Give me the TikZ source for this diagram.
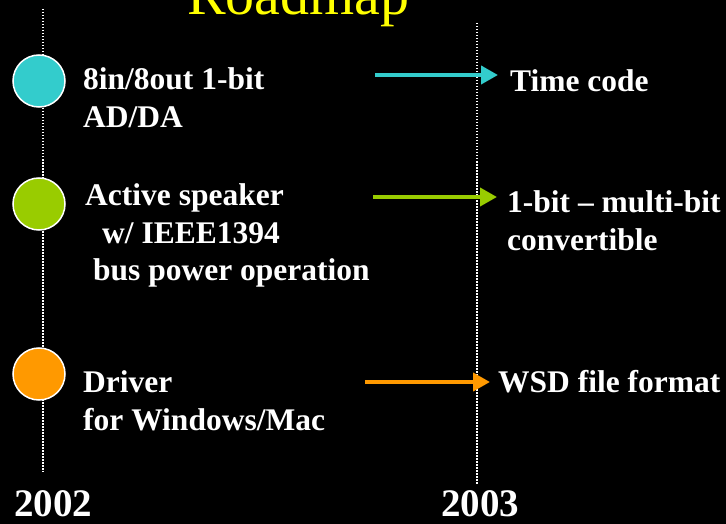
\documentclass[tikz,border=0pt]{standalone}
\usepackage{fontspec}
\setmainfont{Liberation Serif}
\usetikzlibrary{arrows.meta}

\definecolor{rmcyan}{HTML}{33CCCC}
\definecolor{rmgreen}{HTML}{99CC00}
\definecolor{rmorange}{HTML}{FF9900}
\definecolor{rmyellow}{HTML}{FFFF00}

\tikzset{
  item/.style={anchor=base west, inner sep=0pt, text=white,
               font=\fontsize{31.5}{38}\selectfont\bfseries},
  yearlabel/.style={anchor=base west, inner sep=0pt, text=white,
               font=\fontsize{39}{46}\selectfont\bfseries},
  milestone/.style={circle, draw=white, line width=1.5pt,
               minimum size=52pt, inner sep=0pt},
  timeline/.style={white, line width=1.5pt, dash pattern=on 1.5pt off 1.5pt},
  goal/.style={line width=4pt, -{Triangle[length=17pt,width=18pt]}}
}

\begin{document}
\begin{tikzpicture}[x=1pt,y=-1pt]
  \useasboundingbox (0,0) rectangle (726,524);
  \fill[black] (0,0) rectangle (726,524);

  % title
  \node[anchor=base west, inner sep=0pt, text=rmyellow,
        font=\fontsize{58}{60}\selectfont] (title) at (187,15) {Roadmap};

  % time lines
  \coordinate (y2002top) at (43,9);
  \coordinate (y2002end) at (43,472);
  \coordinate (y2003top) at (477,23);
  \coordinate (y2003end) at (477,485);
  \draw[timeline] (y2002top) -- (y2002end);
  \draw[timeline] (y2003top) -- (y2003end);

  % milestones 2002
  \node[milestone, fill=rmcyan]   (m1) at (39,81)  {};
  \node[milestone, fill=rmgreen]  (m2) at (39,204) {};
  \node[milestone, fill=rmorange] (m3) at (39,374) {};

  \node[item] (ad)    at (83,90)  {8in/8out 1-bit};
  \node[item] (ad2)   at (83,128) {AD/DA};
  \node[item] (spk)   at (85,205) {Active speaker};
  \node[item] (spk2)  at (102,243) {w/ IEEE1394};
  \node[item] (spk3)  at (93,280) {bus power operation};
  \node[item] (drv)   at (83,392) {Driver};
  \node[item] (drv2)  at (83,430) {for Windows/Mac};

  % goals 2003
  \node[item] (tc)    at (510,92)  {Time code};
  \node[item] (conv)  at (507,212) {1-bit -- multi-bit};
  \node[item] (conv2) at (507,250) {convertible};
  \node[item] (wsd)   at (498,392) {WSD file format};

  \coordinate (a1s) at (375,75);  \coordinate (a1e) at (498,75);
  \coordinate (a2s) at (373,197); \coordinate (a2e) at (497,197);
  \coordinate (a3s) at (365,382); \coordinate (a3e) at (490,382);
  \draw[goal, rmcyan]   (a1s) -- (a1e);
  \draw[goal, rmgreen]  (a2s) -- (a2e);
  \draw[goal, rmorange] (a3s) -- (a3e);

  % years
  \node[yearlabel] (y2002) at (14,516)  {2002};
  \node[yearlabel] (y2003) at (441,516) {2003};
\end{tikzpicture}
\end{document}
